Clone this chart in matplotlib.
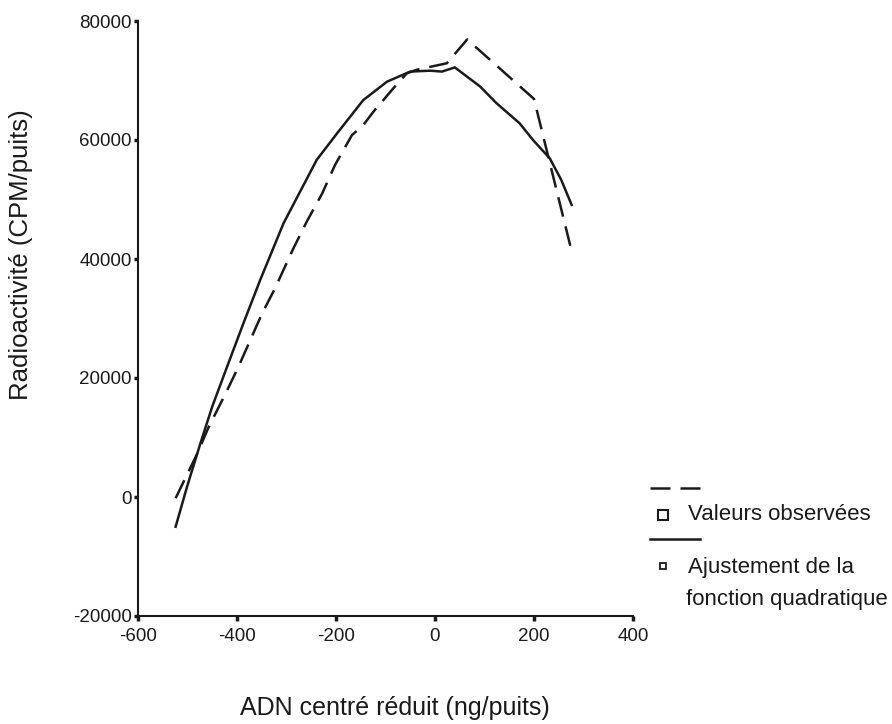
import matplotlib
matplotlib.use("Agg")
import matplotlib.pyplot as plt
from matplotlib.lines import Line2D

plt.rcParams['font.family'] = ['Liberation Sans', 'DejaVu Sans']

# Valeurs observees (courbe en tirets)
x_obs = [-524, -480, -457, -423, -397, -373, -349, -323, -286, -259, -228,
         -202, -168, -145, -124, -84, -57, -37, 24, 65, 200, 274]
y_obs = [-200, 7350, 11800, 17400, 21900, 26400, 30900, 35100, 41800, 46300, 51000,
         55800, 60800, 62500, 64800, 68700, 71200, 71800, 72900, 76900, 66900, 42000]

# Ajustement de la fonction quadratique (trait plein)
x_fit = [-524, -501, -474, -450, -420, -387, -353, -306, -239, -198, -145,
         -97, -50, -10, 14, 40, 91, 124, 171, 198, 232, 255, 276]
y_fit = [-5000, 1700, 9000, 15200, 21900, 29200, 36500, 46000, 56650, 61100, 66700,
         69800, 71500, 71650, 71500, 72200, 69000, 66200, 62800, 60000, 56900, 53300, 49100]

xticks = [-600, -400, -200, 0, 200, 400]
yticks = [-20000, 0, 20000, 40000, 60000, 80000]

W, H = 892, 724
fig = plt.figure(figsize=(W / 100, H / 100), dpi=100)
ax = fig.add_axes([138 / W, 1 - 616 / H, (633 - 138) / W, (616 - 21) / H])

ax.plot(x_obs, y_obs, color='#1a1a1a', lw=1.8, dashes=(8, 4))
ax.plot(x_fit, y_fit, color='#1a1a1a', lw=1.8)

ax.set_xlim(-600, 400)
ax.set_ylim(-20000, 80000)
ax.set_xticks(xticks)
ax.set_yticks(yticks)
ax.set_xticklabels([str(v) for v in xticks], fontsize=13.5)
ax.set_yticklabels([str(v) for v in yticks], fontsize=13.5)

for s in ['top', 'right']:
    ax.spines[s].set_visible(False)
for s in ['left', 'bottom']:
    ax.spines[s].set_linewidth(1.5)
    ax.spines[s].set_color('#1a1a1a')
ax.tick_params(axis='y', length=3, width=2.5, pad=1.5, colors='#1a1a1a')
ax.tick_params(axis='x', length=3.5, width=2.5, pad=5, colors='#1a1a1a')

ax.set_xlabel("ADN centré réduit (ng/puits)", fontsize=18, color='#1a1a1a')
ax.set_ylabel("Radioactivité (CPM/puits)", fontsize=18.5, color='#1a1a1a')
ax.xaxis.set_label_coords(0.519, -0.134)
ax.yaxis.set_label_coords(-0.212, 0.607)

# legende dessinee a la main (hors axes)
def fx(px):
    return px / W

def fy(py):
    return 1 - py / H

fig.add_artist(Line2D([fx(650), fx(700)], [fy(488), fy(488)], color='#1a1a1a', lw=1.8, dashes=(8, 4)))
fig.add_artist(Line2D([fx(663)], [fy(515)], marker='s', ms=7, mfc='white', mec='#1a1a1a', mew=1.5, ls='none'))
fig.text(fx(688), fy(515), "Valeurs observées", fontsize=16, va='center', color='#1a1a1a')
fig.add_artist(Line2D([fx(650), fx(700)], [fy(539), fy(539)], color='#1a1a1a', lw=1.8))
fig.add_artist(Line2D([fx(663)], [fy(566)], marker='s', ms=5, mfc='white', mec='#1a1a1a', mew=1.3, ls='none'))
fig.text(fx(688), fy(567), "Ajustement de la", fontsize=16, va='center', color='#1a1a1a')
fig.text(fx(686), fy(599), "fonction quadratique", fontsize=16, va='center', color='#1a1a1a')

fig.savefig("out.png", dpi=100)
